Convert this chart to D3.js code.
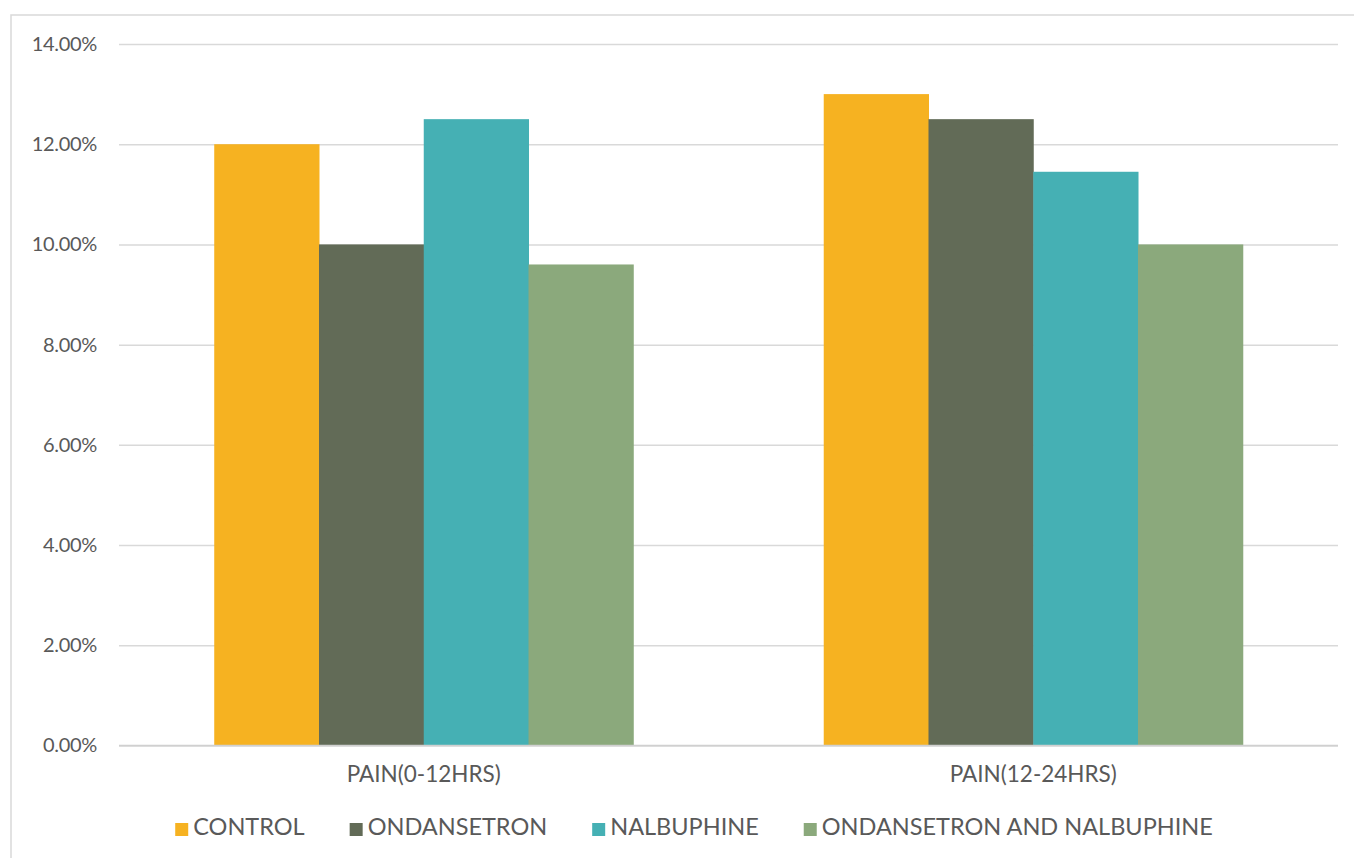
<!DOCTYPE html>
<html>
<head>
<meta charset="utf-8">
<script src="https://cdn.jsdelivr.net/npm/d3@7"></script>
<style>
  html, body { margin: 0; padding: 0; background: #fff; }
  svg { display: block; }
  text { font-family: Lato, "Open Sans", sans-serif; fill: #595959; }
</style>
</head>
<body>
<svg id="chart" width="1354" height="858"></svg>
<script>
const categories = ["PAIN(0-12HRS)", "PAIN(12-24HRS)"];
const seriesNames = ["CONTROL", "ONDANSETRON", "NALBUPHINE", "ONDANSETRON AND NALBUPHINE"];
const control = [0.120, 0.130];
const ondansetron = [0.100, 0.125];
const nalbuphine = [0.125, 0.1145];
const ondansetronAndNalbuphine = [0.096, 0.100];
const yTicks = [0, 0.02, 0.04, 0.06, 0.08, 0.10, 0.12, 0.14];
const colors = ["#F6B221", "#626B57", "#45B0B4", "#8BA97C"];

const seriesValues = [control, ondansetron, nalbuphine, ondansetronAndNalbuphine];

const svg = d3.select("#chart");

// outer frame
svg.append("path")
  .attr("d", "M11,860 L11,15 L1360,15")
  .attr("fill", "none").attr("stroke", "#d9d9d9").attr("stroke-width", 1.5);

const x0 = d3.scaleBand().domain(categories).range([119, 1338])
  .paddingInner(0.3125).paddingOuter(0.15625);
const x1 = d3.scaleBand().domain(d3.range(seriesNames.length)).range([0, x0.bandwidth()]);
const y = d3.scaleLinear().domain([0, 0.14]).range([745.5, 44]);

// grid
const yAxis = d3.axisLeft(y).tickValues(yTicks).tickFormat(d3.format(".2%"))
  .tickSize(-(1338 - 119)).tickPadding(22);
const gy = svg.append("g").attr("transform", "translate(119,0)").call(yAxis);
gy.select(".domain").remove();
gy.selectAll(".tick line").attr("stroke", "#d9d9d9").attr("stroke-width", 1.5);
gy.selectAll(".tick text").style("font-size", "20px").style("letter-spacing", "-0.3px")
  .attr("fill", "#595959").attr("x", -22);

// bars
const groups = svg.append("g").selectAll("g").data(categories).join("g")
  .attr("transform", d => `translate(${x0(d)},0)`);
groups.selectAll("rect")
  .data((c, ci) => seriesValues.map((arr, si) => ({si, v: arr[ci]})))
  .join("rect")
  .attr("x", d => x1(d.si))
  .attr("width", x1.bandwidth() + 0.5)
  .attr("y", d => y(d.v))
  .attr("height", d => y(0) - y(d.v))
  .attr("fill", d => colors[d.si]);

// zero axis line
svg.append("line").attr("x1", 119).attr("x2", 1338)
  .attr("y1", y(0)).attr("y2", y(0))
  .attr("stroke", "#d0d0d0").attr("stroke-width", 1.5);

// x axis labels
const xAxis = d3.axisBottom(x0).tickSize(0).tickPadding(21);
const gx = svg.append("g").attr("transform", `translate(0,${y(0)})`).call(xAxis);
gx.select(".domain").remove();
gx.selectAll(".tick text").style("font-size", "22.5px").attr("fill", "#595959");

// legend
const legend = svg.append("g");
const items = legend.selectAll("g").data(seriesNames).join("g");
items.append("rect").attr("width", 13).attr("height", 13).attr("y", -12)
  .attr("fill", (d, i) => colors[i]);
items.append("text").attr("x", 18).attr("y", 0)
  .style("font-size", "23.5px").text(d => d);
let xpos = 0;
const gap = 45;
items.each(function() {
  const g = d3.select(this);
  g.attr("transform", `translate(${xpos},0)`);
  const w = 18 + g.select("text").node().getComputedTextLength();
  xpos += w + gap;
});
const total = xpos - gap;
legend.attr("transform", `translate(${694 - total / 2},835)`);
</script>
</body>
</html>
